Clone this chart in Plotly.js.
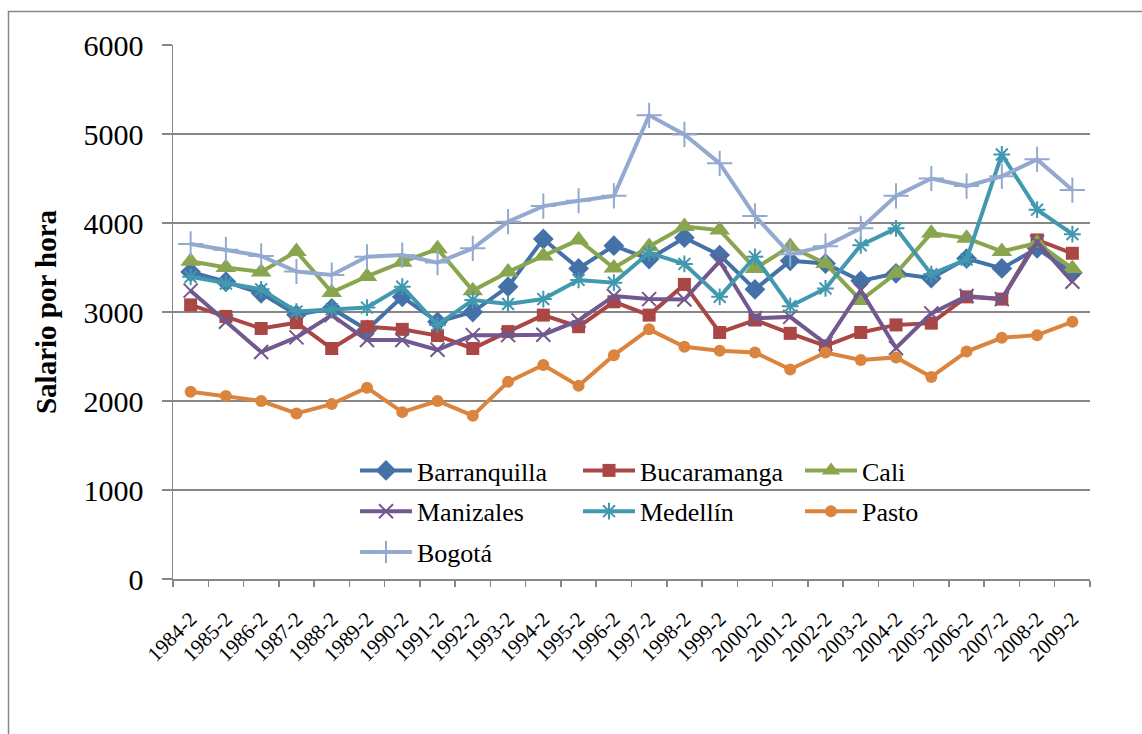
<!DOCTYPE html>
<html>
<head>
<meta charset="utf-8">
<script src="https://cdn.plot.ly/plotly-3.0.1.min.js"></script>
<style>
html,body{margin:0;padding:0;background:#fff;}
#chart{width:1142px;height:734px;}
</style>
</head>
<body>
<div id="chart"></div>
<script>
const periods = ["1984-2","1985-2","1986-2","1987-2","1988-2","1989-2","1990-2","1991-2","1992-2","1993-2","1994-2","1995-2","1996-2","1997-2","1998-2","1999-2","2000-2","2001-2","2002-2","2003-2","2004-2","2005-2","2006-2","2007-2","2008-2","2009-2"];

const barranquilla = [3450,3340,3210,2970,3040,2800,3170,2890,3000,3285,3820,3490,3745,3595,3835,3640,3255,3575,3545,3350,3435,3380,3600,3490,3715,3440];
const bucaramanga  = [3080,2950,2815,2880,2590,2835,2805,2735,2590,2780,2965,2835,3115,2965,3310,2770,2910,2760,2620,2770,2855,2875,3170,3145,3810,3660];
const cali         = [3570,3500,3450,3680,3220,3400,3560,3710,3240,3450,3630,3810,3495,3735,3960,3920,3490,3735,3545,3130,3435,3885,3830,3680,3775,3490];
const manizales    = [3240,2890,2550,2715,2965,2685,2685,2575,2740,2740,2745,2905,3180,3145,3140,3570,2930,2945,2645,3245,2595,2985,3180,3145,3785,3340];
const medellin     = [3395,3320,3255,3005,3030,3050,3285,2855,3135,3090,3145,3360,3330,3665,3540,3170,3620,3065,3265,3750,3940,3425,3590,4770,4150,3875];
const pasto        = [2105,2055,2000,1860,1965,2150,1875,2000,1835,2215,2405,2170,2515,2805,2610,2565,2545,2355,2545,2460,2490,2270,2555,2710,2740,2890];
const bogota       = [3765,3700,3630,3455,3415,3620,3640,3555,3715,4015,4190,4250,4305,5210,4995,4670,4080,3650,3740,3940,4305,4500,4415,4525,4715,4370];

const seriesNames  = ["Barranquilla","Bucaramanga","Cali","Manizales","Medellín","Pasto","Bogotá"];
const seriesValues = [barranquilla,bucaramanga,cali,manizales,medellin,pasto,bogota];
const seriesColors = ["#4472A8","#AA4643","#89A54E","#71588F","#4198AF","#DB843D","#93A9CF"];
const seriesSymbols = ["diamond","square","triangle-up","x-thin","asterisk","circle","cross-thin"];
const seriesSizes  = [16,13,18,14,14,12,18];
const legendIds    = ["legend","legend2","legend3","legend","legend2","legend3","legend"];

const traces = seriesNames.map((name,i)=>({
  type:"scatter",
  mode:"lines+markers",
  name:name,
  legend:legendIds[i],
  legendgroup:name,
  x:periods,
  y:seriesValues[i],
  line:{color:seriesColors[i],width:4},
  marker:{symbol:seriesSymbols[i],size:seriesSizes[i],color:seriesColors[i],
          line:{color:seriesColors[i],width:(seriesSymbols[i].indexOf("thin")>=0||seriesSymbols[i]==="asterisk")?2:0}}
}));

const fontFam = "Liberation Serif";
const L=173,R=52,T=45,B=155, W=1142, H=734;
const pw=W-L-R, ph=H-T-B;
const px2x = p => (p-L)/pw;
const px2y = p => (H-B-p)/ph;

function legendAt(xpx){
  return {
    orientation:"v",
    x:px2x(xpx), y:px2y(447), xanchor:"left", yanchor:"top",
    bgcolor:"rgba(0,0,0,0)", borderwidth:0,
    font:{family:fontFam,size:26,color:"#000"},
    itemwidth:52,
    traceorder:"grouped",
    tracegroupgap:4
  };
}

const layout = {
  width:W,height:H,
  margin:{l:L,r:R,t:T,b:B,pad:0},
  paper_bgcolor:"#ffffff",
  plot_bgcolor:"#ffffff",
  font:{family:fontFam,color:"#000"},
  showlegend:true,
  legend:legendAt(355),
  legend2:legendAt(578),
  legend3:legendAt(800),
  xaxis:{
    type:"category",
    tickson:"boundaries",
    ticks:"outside", ticklen:6, tickcolor:"#868686", tickwidth:1.5,
    showline:true, linecolor:"#868686", linewidth:1.5,
    showgrid:false, zeroline:false,
    tickangle:-45,
    ticklabelstandoff:18,
    tickfont:{family:fontFam,size:21,color:"#000"},
    range:[-0.5,25.5]
  },
  yaxis:{
    range:[0,6000], dtick:1000, tick0:0,
    ticks:"outside", ticklen:10, tickcolor:"#868686", tickwidth:1.5,
    showline:true, linecolor:"#868686", linewidth:1.5,
    showgrid:true, gridcolor:"#868686", gridwidth:1.5,
    zeroline:false,
    ticklabelstandoff:12,
    tickfont:{family:fontFam,size:30,color:"#000"},
    title:{text:"<b>Salario por hora</b>",font:{family:fontFam,size:29,color:"#000"},standoff:18}
  },
  shapes:[{
    type:"rect", xref:"paper", yref:"paper",
    x0:px2x(8.5), x1:px2x(1200), y0:px2y(800), y1:px2y(11.5),
    line:{color:"#868686",width:1.5}, fillcolor:"rgba(0,0,0,0)", layer:"below"
  }]
};

Plotly.newPlot("chart",traces,layout,{displayModeBar:false,staticPlot:true});
</script>
</body>
</html>
